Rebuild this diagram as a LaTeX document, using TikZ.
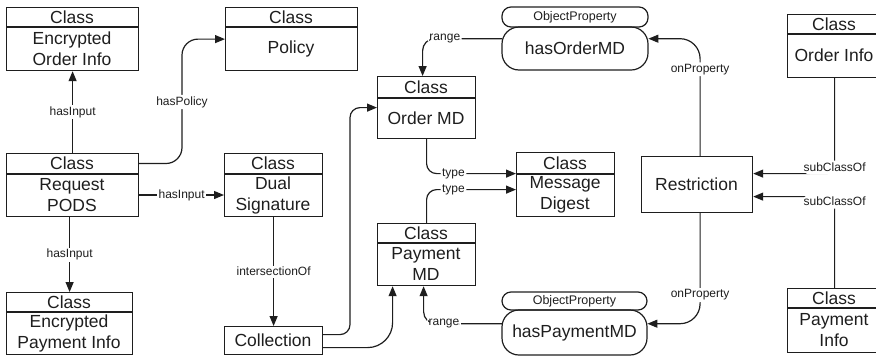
\documentclass[tikz,border=0pt]{standalone}
\usepackage{fontspec}
\setmainfont{Liberation Sans}
\usetikzlibrary{arrows.meta,calc}
\definecolor{ink}{HTML}{1E1E1E}

% Class box: name, left, top, right, header divider, bottom, body text
\newcommand{\classbox}[7]{%
  \node[boxframe, minimum width={(#4-#2)*1pt}, minimum height={(#6-#3)*1pt}, anchor=north west] (#1) at (#2,#3) {};
  \draw[boxline] (#2,#5) -- (#4,#5);
  \node[boxtext] (#1-h) at ({(#2+#4)/2},{(#3+#5)/2}) {Class};
  \node[boxtext] (#1-b) at ({(#2+#4)/2},{(#5+#6)/2}) {#7};
}
% Plain box: name, left, top, right, bottom, text
\newcommand{\plainbox}[6]{%
  \node[boxframe, minimum width={(#4-#2)*1pt}, minimum height={(#5-#3)*1pt}, anchor=north west] (#1) at (#2,#3) {};
  \node[boxtext] (#1-b) at ({(#2+#4)/2},{(#3+#5)/2}) {#6};
}
% Object property pill: name, left, top, tag divider, right, bottom, text
\newcommand{\propbox}[7]{%
  \node[minimum width={(#5-#2)*1pt}, minimum height={(#6-#3)*1pt}, anchor=north west, inner sep=0pt] (#1) at (#2,#3) {};
  \draw[boxline, rounded corners=9pt] (#2,#3) rectangle (#5,#4);
  \draw[boxline, rounded corners=17pt] (#2,#4) rectangle (#5,#6);
  \node[proptag] (#1-t) at ({(#2+#5)/2},{(#3+#4)/2}) {ObjectProperty};
  \node[boxtext] (#1-b) at ({(#2+#5)/2},{(#4+#6)/2}) {#7};
}

\begin{document}
\begin{tikzpicture}[x=1pt,y=-1pt,
  boxframe/.style={draw=ink, line width=1.2pt, inner sep=0pt},
  boxline/.style={draw=ink, line width=1.2pt},
  boxtext/.style={font=\fontsize{17.5}{21}\selectfont, text=ink, align=center, inner sep=0pt},
  proptag/.style={font=\fontsize{12.5}{14}\selectfont, text=ink, inner sep=0pt},
  lbl/.style={fill=white, font=\fontsize{12}{13}\selectfont, text=ink, inner sep=1.5pt},
  arr/.style={draw=ink, line width=1.2pt, -{Triangle[length=10pt,width=8pt]}},
]
\useasboundingbox (0,0) rectangle (876,357);
\clip (0,0) rectangle (876,357);

% classes
\classbox{eoi}{6}{7}{138}{27}{70}{Encrypted\\Order Info}
\classbox{pol}{225}{7}{357}{27}{70}{Policy}
\classbox{rp}{6}{153}{138}{174}{216}{Request\\PODS}
\classbox{ds}{224}{153}{322}{174}{216}{Dual\\Signature}
\classbox{epi}{6}{292}{132}{312}{354}{Encrypted\\Payment Info}
\classbox{om}{377}{76}{475}{98}{138}{Order MD}
\classbox{pm}{377}{223}{475}{243}{285}{Payment\\MD}
\classbox{md}{516}{152}{614}{174}{216}{Message\\Digest}
\classbox{oi}{787}{14}{881}{34}{77}{Order Info}
\classbox{pi}{787}{288}{881}{308}{352}{Payment\\Info}

% plain boxes
\plainbox{col}{224}{326}{322}{354}{Collection}
\plainbox{rs}{641}{156}{752}{212}{Restriction}

% object properties
\propbox{hop}{502}{7}{27}{648}{70}{hasOrderMD}
\propbox{hpp}{502}{292}{310}{647}{355}{hasPaymentMD}

% bend points
\coordinate (bendpol) at (182,102);
\coordinate (colbend) at (350,220);

% connectors
\draw[arr] (rp.north) -- (eoi.south) node[lbl, midway] {hasInput};
\draw[arr] (rp.south -| epi.north) -- (epi.north) node[lbl, midway] {hasInput};
\draw[arr, rounded corners=16pt] (rp.east |- rp-h) -| (bendpol) node[lbl] {hasPolicy} |- (pol.west);
\draw[arr] (rp.east |- rp-b) -- (ds.west |- rp-b) node[lbl, midway] {hasInput};
\draw[arr] (ds.south) -- (col.north) node[lbl, midway] {intersectionOf};

\draw[arr, rounded corners=10pt] ($(col.east)+(0,-6)$) -| (colbend) |- (om.west);
\draw[arr, rounded corners=25pt] ($(col.east)+(0,7)$) -| ($(pm.south)+(-34,0)$);

\draw[arr, rounded corners=10pt] (om.south) |- ($(md.west)+(0,-11)$) node[lbl, pos=0.65] {type};
\draw[arr, rounded corners=10pt] (pm.north) |- ($(md.west)+(0,5)$) node[lbl, pos=0.65] {type};

\draw[arr, rounded corners=12pt] (hop.west) -| ($(om.north)+(-4,0)$) node[lbl, pos=0.36] {range};
\draw[arr, rounded corners=12pt] (hpp.west) -| ($(pm.south)+(-3,0)$) node[lbl, pos=0.37] {range};

\draw[arr, rounded corners=20pt] ($(rs.north)+(3,0)$) |- (hop.east) node[lbl, pos=0.37] {onProperty};
\draw[arr, rounded corners=20pt] ($(rs.south)+(3,0)$) |- (hpp.east) node[lbl, pos=0.37] {onProperty};

\draw[arr, rounded corners=8pt] (oi.south) |- ($(rs.east)+(0,-11)$) node[lbl, pos=0.5, yshift=6pt, inner ysep=2.5pt] {subClassOf};
\draw[arr, rounded corners=8pt] (pi.north) |- ($(rs.east)+(0,12)$) node[lbl, pos=0.5, yshift=-5pt, inner ysep=2.5pt] {subClassOf};
\end{tikzpicture}
\end{document}
